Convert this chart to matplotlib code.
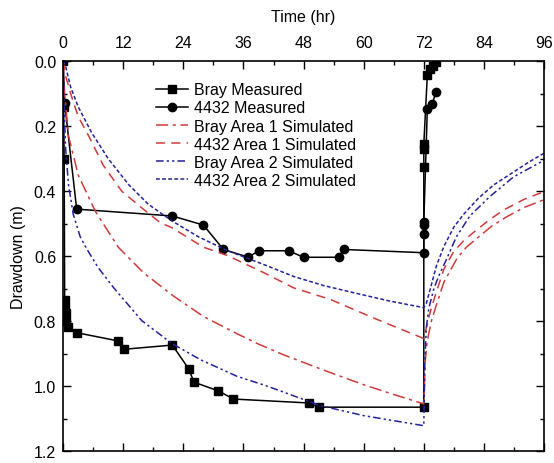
import matplotlib
matplotlib.use("Agg")
import matplotlib.pyplot as plt
from matplotlib.ticker import MultipleLocator, FormatStrFormatter

plt.rcParams['font.family'] = ['Liberation Sans', 'DejaVu Sans']

# Measured data
bray_t = [0.0, 0.1, 0.2, 0.3, 0.4, 0.5, 0.6, 0.9, 2.7, 10.9, 12.1, 21.8, 25.1, 26.1, 31.0, 34.0, 49.0, 51.0, 72.0,
          72.0, 72.0, 72.0, 72.7, 73.3, 73.9, 74.5]
bray_d = [0.0, 0.14, 0.3, 0.733, 0.758, 0.773, 0.80, 0.818, 0.835, 0.86, 0.886, 0.873, 0.947, 0.987, 1.014, 1.039, 1.051, 1.064, 1.064,
          0.326, 0.27, 0.255, 0.044, 0.024, 0.014, 0.001]

w4432_t = [0.0, 0.3, 2.7, 21.8, 28.0, 32.0, 37.0, 39.0, 45.0, 48.0, 55.0, 56.0, 72.0,
           72.0, 72.0, 72.0, 72.7, 73.7, 74.4]
w4432_d = [0.0, 0.13, 0.455, 0.476, 0.504, 0.579, 0.603, 0.583, 0.583, 0.603, 0.603, 0.579, 0.589,
           0.53, 0.504, 0.494, 0.147, 0.132, 0.094]

# Simulated curves
bray1_t = [0.0, 0.3, 1.07, 3.0, 6.4, 11.0, 16.0, 22.0, 28.0, 34.7, 38.7, 44.0, 52.7, 60.0, 66.0, 72.0,
           72.3, 72.7, 73.5, 74.5, 76.0, 78.6, 80.5, 82.6, 85.5, 88.6, 92.0, 96.0]
bray1_d = [0.0, 0.10, 0.23, 0.35, 0.461, 0.572, 0.65, 0.722, 0.785, 0.838, 0.868, 0.903, 0.954, 0.995, 1.025, 1.054,
           0.92, 0.86, 0.80, 0.75, 0.68, 0.607, 0.572, 0.545, 0.508, 0.478, 0.45, 0.426]

w4432_1_t = [0.0, 0.4, 1.5, 3.0, 5.1, 8.0, 11.7, 16.0, 19.4, 21.7, 28.0, 32.7, 40.0, 46.0, 53.4, 62.0, 72.0,
             72.5, 73.3, 74.5, 76.0, 77.9, 79.9, 81.9, 84.9, 87.9, 92.0, 96.0]
w4432_1_d = [0.0, 0.04, 0.10, 0.17, 0.23, 0.32, 0.40, 0.455, 0.497, 0.512, 0.572, 0.597, 0.65, 0.697, 0.733, 0.79, 0.853,
             0.82, 0.77, 0.71, 0.64, 0.587, 0.553, 0.527, 0.49, 0.458, 0.425, 0.401]

bray2_t = [0.0, 0.2, 0.5, 1.07, 2.0, 3.4, 4.7, 7.0, 10.1, 15.7, 21.7, 27.4, 34.7, 40.7, 51.3, 60.0, 72.0,
           72.2, 72.5, 73.0, 74.0, 75.0, 76.6, 78.5, 81.2, 85.2, 89.9, 93.0, 96.0]
bray2_d = [0.0, 0.15, 0.27, 0.38, 0.47, 0.54, 0.577, 0.635, 0.697, 0.798, 0.868, 0.918, 0.969, 0.999, 1.059, 1.09, 1.121,
           0.93, 0.82, 0.76, 0.70, 0.66, 0.607, 0.54, 0.476, 0.416, 0.356, 0.33, 0.305]

w4432_2_t = [0.0, 0.4, 1.5, 3.0, 5.7, 9.0, 13.1, 17.0, 21.7, 27.0, 32.7, 40.0, 46.0, 52.0, 58.0, 65.0, 72.0,
             72.5, 73.3, 74.5, 76.0, 78.0, 80.0, 83.0, 86.0, 90.0, 93.0, 96.0]
w4432_2_d = [0.0, 0.01, 0.08, 0.14, 0.22, 0.30, 0.38, 0.44, 0.491, 0.54, 0.582, 0.625, 0.662, 0.69, 0.712, 0.737, 0.758,
             0.745, 0.70, 0.63, 0.57, 0.51, 0.47, 0.42, 0.38, 0.34, 0.31, 0.283]

x_ticks = [0, 12, 24, 36, 48, 60, 72, 84, 96]
y_ticks = [0.0, 0.2, 0.4, 0.6, 0.8, 1.0, 1.2]

red = '#d03a3a'
blue = '#22229a'
fs = 11.5

fig = plt.figure(figsize=(5.54, 4.64), dpi=100)
ax = fig.add_axes([0.114, 0.025, 0.868, 0.841])

ax.plot(bray_t, bray_d, color='black', lw=1.1, marker='s', ms=5.5, label='Bray Measured')
ax.plot(w4432_t, w4432_d, color='black', lw=1.1, marker='o', ms=6, label='4432 Measured')
ax.plot(bray1_t, bray1_d, color=red, lw=1.1, ls=(0, (8, 3, 2, 3)), label='Bray Area 1 Simulated')
ax.plot(w4432_1_t, w4432_1_d, color=red, lw=1.1, ls=(0, (6, 4)), label='4432 Area 1 Simulated')
ax.plot(bray2_t, bray2_d, color=blue, lw=1.1, ls=(0, (5, 2, 1.5, 2, 1.5, 2)), label='Bray Area 2 Simulated')
ax.plot(w4432_2_t, w4432_2_d, color=blue, lw=1.1, ls=(0, (2.5, 1.5)), label='4432 Area 2 Simulated')

ax.set_xlim(0, 96)
ax.set_ylim(1.2, 0.0)
ax.set_xticks(x_ticks)
ax.set_yticks(y_ticks)
ax.xaxis.set_minor_locator(MultipleLocator(6))
ax.yaxis.set_minor_locator(MultipleLocator(0.1))
ax.yaxis.set_major_formatter(FormatStrFormatter('%.1f'))
ax.xaxis.set_label_position('top')
ax.tick_params(axis='x', which='both', top=True, bottom=True, labeltop=True, labelbottom=False, direction='in')
ax.tick_params(axis='y', which='both', left=True, right=True, direction='in')
ax.tick_params(which='major', length=6, width=1, labelsize=fs)
ax.tick_params(axis='x', which='major', pad=8)
ax.tick_params(axis='y', which='major', pad=5)
ax.tick_params(which='minor', length=3, width=1)
ax.set_xlabel('Time (hr)', fontsize=fs, labelpad=10)
ax.set_ylabel('Drawdown (m)', fontsize=fs, labelpad=6)
for s in ax.spines.values():
    s.set_linewidth(1.2)

ax.legend(loc='upper left', bbox_to_anchor=(0.17, 0.975), frameon=False, fontsize=fs,
          handlelength=2.0, handletextpad=0.4, labelspacing=0.2, borderpad=0.2)

fig.savefig('out.png', dpi=100)
